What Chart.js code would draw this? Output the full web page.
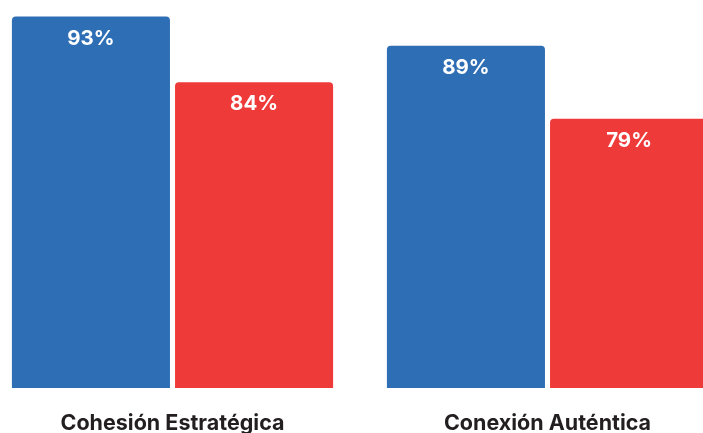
<!DOCTYPE html>
<html>
<head>
<meta charset="utf-8">
<script src="https://cdn.jsdelivr.net/npm/chart.js@4"></script>
<style>
  html, body { margin: 0; padding: 0; background: #fff; overflow: hidden; }
  #wrap { position: absolute; left: -15px; top: 0; width: 750px; height: 433px; }
</style>
</head>
<body>
<div id="wrap"><canvas id="grafico"></canvas></div>
<script>
const categorias = ['Cohesión Estratégica', 'Conexión Auténtica'];
const serieAzul = [93, 89];
const serieRoja = [84, 79];

// etiquetas blancas dentro de cada barra
const etiquetas = {
  id: 'etiquetas',
  afterDatasetsDraw(chart) {
    const ctx = chart.ctx;
    ctx.save();
    ctx.fillStyle = '#ffffff';
    ctx.font = 'bold 20.5px Inter';
    ctx.textAlign = 'center';
    ctx.textBaseline = 'middle';
    chart.data.datasets.forEach((ds, i) => {
      chart.getDatasetMeta(i).data.forEach((bar, j) => {
        ctx.fillText(ds.data[j] + '%', bar.x, bar.y + 22);
      });
    });
    ctx.restore();
  }
};

new Chart(document.getElementById('grafico'), {
  type: 'bar',
  data: {
    labels: categorias,
    datasets: [
      {
        data: serieAzul,
        backgroundColor: '#2E6EB5',
        borderRadius: 4,
        barPercentage: 0.969,
        categoryPercentage: 0.87
      },
      {
        data: serieRoja,
        backgroundColor: '#EF3A3A',
        borderRadius: 4,
        barPercentage: 0.969,
        categoryPercentage: 0.87
      }
    ]
  },
  options: {
    responsive: true,
    maintainAspectRatio: false,
    animation: false,
    layout: { padding: 0 },
    plugins: { legend: { display: false }, tooltip: { enabled: false } },
    scales: {
      y: { display: false, min: 42.1, max: 95.25 },
      x: {
        grid: { display: false },
        border: { display: false },
        afterFit(scale) { scale.height = 45; },
        ticks: {
          padding: 15,
          color: '#231f20',
          font: { family: 'Inter', weight: 'bold', size: 21.5 }
        }
      }
    }
  },
  plugins: [etiquetas]
});
</script>
</body>
</html>
